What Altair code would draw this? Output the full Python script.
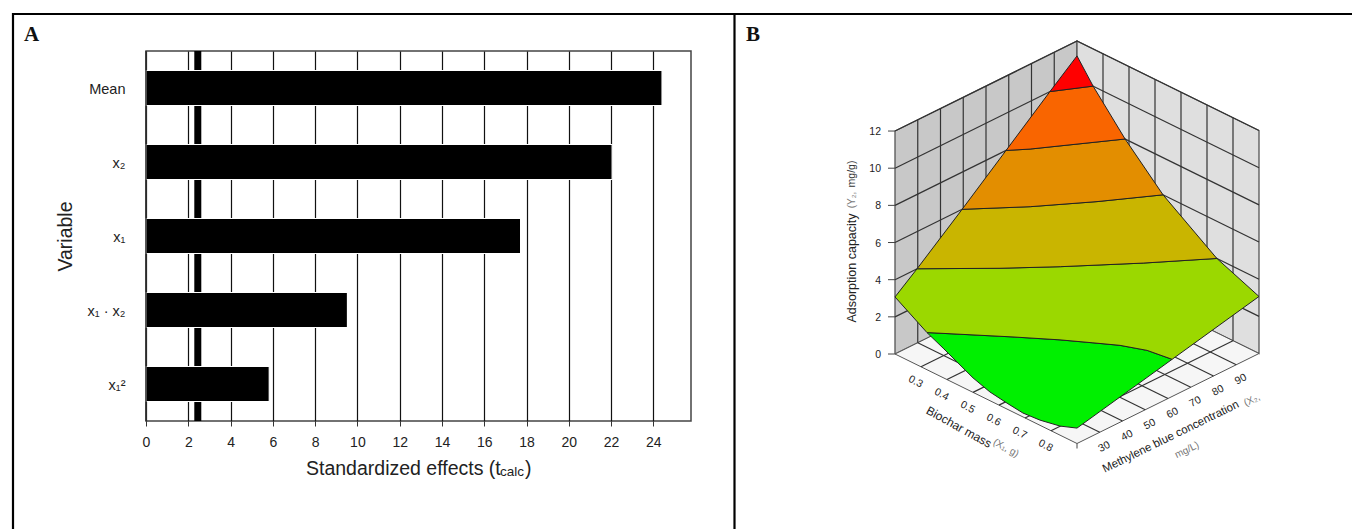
import altair as alt
import pandas as pd

FONT = "Liberation Sans"

# ---- Panel A values
variables = ["Mean", "x₂", "x₁", "x₁ · x₂", "x₁²"]
effects = [24.41, 22.05, 17.72, 9.53, 5.83]
critical_t = 2.45
x_ticks = list(range(0, 25, 2))

# ---- Panel B values: response surface contours (mass g, concentration mg/L) at level Y
level2 = [(.323, 20), (.506, 36.9), (.608, 45.9), (.683, 51.8), (.745, 56.6), (.817, 60.3), (.9, 61.8)]
level4 = [(.2, 29.7), (.358, 48.1), (.468, 62), (.614, 81.8), (.738, 100)]
level6 = [(.2, 49.5), (.321, 65.6), (.43, 82.5), (.531, 100)]
level8 = [(.2, 68.8), (.241, 74.7), (.385, 100)]
level10 = [(.2, 88.1), (.262, 100)]
apex_y = 11.2
side_y = 3.07
front_y = 0.83
front_edge = [(.835, .49), (.758, .28), (.692, .21), (.631, .32), (.565, .47), (.5, .78), (.439, 1.21), (.385, 1.59)]  # at 20 mg/L
mass_ticks = [.3, .4, .5, .6, .7, .8]
conc_ticks = [30, 40, 50, 60, 70, 80, 90]
y_ticks = [0, 2, 4, 6, 8, 10, 12]
band_colors = ["#00F000", "#9BD800", "#C9B500", "#E38E00", "#F96500", "#FF0000"]


def project(m, c, y):
    mn = (m - .2) / .7
    cn = (c - 20) / 80
    return 895 + 182 * (mn + cn), 354 + 89.5 * mn - 90 * cn - 18.58 * y


def at(pts, y):
    return [(m, c, y) for m, c in pts]


bands = [
    at(level2, 2) + [(.9, 20, front_y)] + [(m, 20, y) for m, y in front_edge],
    at(level4, 4) + [(.9, 100, side_y)] + at(level2[::-1], 2) + [(.2, 20, side_y)],
    at(level6, 6) + at(level4[::-1], 4),
    at(level8, 8) + at(level6[::-1], 6),
    at(level10, 10) + at(level8[::-1], 8),
    at(level10, 10) + [(.2, 100, apex_y)],
]

SX = alt.Scale(domain=[0, 1360], range=[-146, 1214], zero=False, nice=False)
SY = alt.Scale(domain=[0, 529], range=[-51, 478], zero=False, nice=False)


def frame(points):
    rows = [{"sx": p[0], "sy": p[1], "i": i} for i, p in enumerate(points)]
    return pd.DataFrame(rows)


def poly3d(pts, fill, stroke="#222", sw=1.0):
    pts = list(pts) + [pts[0]]
    df = frame([project(*p) for p in pts])
    return alt.Chart(df).mark_line(fill=fill, stroke=stroke, strokeWidth=sw, clip=False).encode(
        x=alt.X("sx:Q", scale=SX, axis=None),
        y=alt.Y("sy:Q", scale=SY, axis=None),
        order="i:Q",
    )


def segments(segs, stroke="#333", sw=1.2):
    rows = []
    for k, (a, b) in enumerate(segs):
        rows.append({"sx": a[0], "sy": a[1], "i": 0, "k": k})
        rows.append({"sx": b[0], "sy": b[1], "i": 1, "k": k})
    return alt.Chart(pd.DataFrame(rows)).mark_line(stroke=stroke, strokeWidth=sw, clip=False).encode(
        x=alt.X("sx:Q", scale=SX, axis=None),
        y=alt.Y("sy:Q", scale=SY, axis=None),
        detail="k:N",
        order="i:Q",
    )


def label(rows, angle=0, size=10.5, color="#222", align="center", font=FONT, weight="normal"):
    df = pd.DataFrame(rows, columns=["sx", "sy", "t"])
    return alt.Chart(df).mark_text(
        angle=angle, fontSize=size, color=color, align=align, baseline="middle",
        font=font, fontWeight=weight,
    ).encode(
        x=alt.X("sx:Q", scale=SX, axis=None),
        y=alt.Y("sy:Q", scale=SY, axis=None),
        text="t:N",
    )


# ---- Panel A
XS = alt.Scale(domain=[0, 25.78], nice=False, zero=False)
df_a = pd.DataFrame({"variable": variables, "effect": effects})
bars = alt.Chart(df_a).mark_bar(size=35, color="black", stroke="white", strokeWidth=1.2).encode(
    x=alt.X("effect:Q", scale=XS, axis=alt.Axis(
        values=x_ticks, format="d", title=None, grid=True, gridColor="#111", gridWidth=1.2,
        domain=False, tickColor="#333", tickSize=5, tickWidth=1,
        labelFont=FONT, labelFontSize=14, labelColor="#222", labelPadding=9, labelFlush=False)),
    y=alt.Y("variable:N", sort=variables, scale=alt.Scale(domain=variables), axis=alt.Axis(
        title="Variable", titleFont=FONT, titleFontSize=19.5, titleFontWeight="normal", titleColor="#222",
        titlePadding=12, ticks=False, domain=False, grid=False, labelOffset=2,
        labelFont=FONT, labelFontSize=14.5, labelColor="#222", labelPadding=21)),
)
crit = alt.Chart(pd.DataFrame({"t": [critical_t]})).mark_rule(color="black", strokeWidth=7).encode(
    x=alt.X("t:Q", scale=XS, axis=None)
)
left_edge = alt.Chart(pd.DataFrame({"t": [0]})).mark_rule(color="#333", strokeWidth=1.5).encode(
    x=alt.X("t:Q", scale=XS, axis=None)
)
axis_title = [
    label([(306, 469, "Standardized effects (t")], size=19.5, align="left"),
    label([(500, 472, "calc")], size=13.5, align="left"),
    label([(525, 469, ")")], size=19.5, align="left"),
]

# ---- Panel B walls, floor, grid
left_wall = [(.2, 20, 0), (.2, 100, 0), (.2, 100, 12), (.2, 20, 12)]
right_wall = [(.2, 100, 0), (.9, 100, 0), (.9, 100, 12), (.2, 100, 12)]
floor = [(.2, 20, 0), (.9, 20, 0), (.9, 100, 0), (.2, 100, 0)]

grid = []
for c in conc_ticks:
    grid.append((project(.2, c, 0), project(.2, c, 12)))
    grid.append((project(.2, c, 0), project(.9, c, 0)))
for m in mass_ticks:
    grid.append((project(m, 100, 0), project(m, 100, 12)))
    grid.append((project(m, 20, 0), project(m, 100, 0)))
for y in y_ticks[1:]:
    grid.append((project(.2, 20, y), project(.2, 100, y)))
    grid.append((project(.2, 100, y), project(.9, 100, y)))

ticks = []
for y in y_ticks:
    px, py = project(.2, 20, y)
    ticks.append(((px - 7, py), (px, py)))
fx, fy = project(.9, 20, 0)
ticks.append(((fx, fy), (fx, fy + 5)))

y_labels = [(881, project(.2, 20, y)[1] + 1, str(y)) for y in y_ticks]
m_labels = [(project(m, 20, 0)[0] - 5.5, project(m, 20, 0)[1] + 15, f"{m:.1f}") for m in mass_ticks]
c_labels = [(project(.9, c, 0)[0] + 4.5, project(.9, c, 0)[1] + 14.5, str(c)) for c in conc_ticks]

layers = [crit, bars, left_edge] + axis_title + [
    poly3d(left_wall, "#C8C8C8", "#555", 1.3),
    poly3d(right_wall, "#DFDFDF", "#555", 1.3),
    poly3d(floor, "#F6F6F6", "#555", 1.0),
    segments(grid),
    segments(ticks, "#444", 1.0),
]
layers += [poly3d(b, col, "#222", 1.0) for b, col in zip(bands, band_colors)]
layers += [
    label(y_labels, size=10.5, align="right"),
    label(m_labels, angle=28, size=10.5),
    label(c_labels, angle=332, size=10.5),
    label([(959, 427, "Biochar mass")], angle=29, size=12),
    label([(1006, 448, "(X₁, g)")], angle=29, size=10, color="#777"),
    label([(1171, 437, "Methylene blue concentration")], angle=334, size=11.5),
    label([(1252, 400, "(X₂,")], angle=334, size=10, color="#777"),
    label([(1187, 450, "mg/L)")], angle=334, size=10, color="#777"),
    label([(852, 268, "Adsorption capacity")], angle=270, size=12.5),
    label([(852, 200, "(Y₂,")], angle=270, size=10, color="#777"),
    label([(852, 174, "mg/g)")], angle=270, size=10.5, color="#333"),
    label([(24, 35, "A"), (746, 35, "B")], size=21, align="left", font="Liberation Serif", weight="bold", color="#111"),
    segments([((13, 13), (13, 529)), ((734.5, 13), (734.5, 529)), ((12, 14), (1360, 14))], "#000", 2.2),
]

chart = alt.layer(*layers).resolve_scale(x="independent", y="independent").properties(
    width=545,
    height=370,
    padding={"left": 138, "top": 43, "right": 661, "bottom": 108},
    autosize=alt.AutoSizeParams(type="none"),
).configure_view(stroke="#444", strokeWidth=1.5)

chart.save("out.html", embed_options={"renderer": "svg", "actions": False})
